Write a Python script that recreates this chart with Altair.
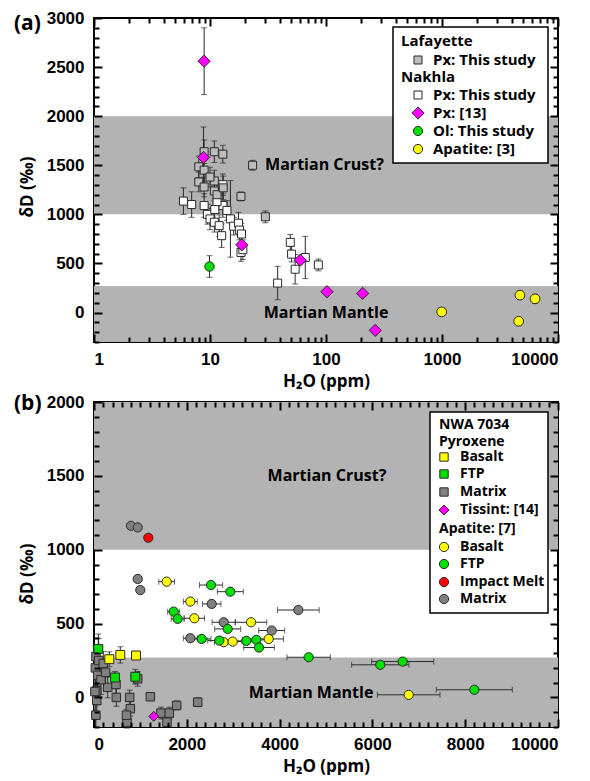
import altair as alt
import pandas as pd

# ---------------- Panel (a) data ----------------
laf_x = [10.9, 12.9, 8.9, 8.0, 8.9, 8.0, 10.9, 8.9, 10.9, 11.5, 10.0, 13.0, 23.3, 18.5, 30.0]
laf_y = [1638, 1613, 1638, 1484, 1450, 1330, 1340, 1279, 1238, 1200, 1380, 1270, 1500, 1183, 975]
laf_e = [110, 90, 120, 110, 120, 100, 110, 100, 100, 110, 100, 120, 50, 45, 60]

nak_x = [5.9, 6.95, 8.9, 9.5, 10.0, 10.9, 12.0, 12.6, 12.9, 12.9, 11.0, 11.5, 14.0, 15.0, 16.0,
         17.6, 18.0, 18.7, 18.5, 19.2, 38.3, 49.2, 50.5, 54.2, 66.3, 85.9]
nak_y = [1135, 1100, 1090, 1000, 954, 920, 885, 783, 1302, 1090, 1050, 1130, 1040, 954, 880,
         910, 840, 800, 612, 640, 300, 715, 595, 441, 561, 485]
nak_e = [135, 130, 120, 100, 110, 100, 110, 120, 110, 120, 110, 120, 100, 390, 90,
         110, 100, 110, 90, 100, 170, 80, 80, 150, 215, 60]

px13_x = [8.9, 8.8, 18.8, 60, 102, 207, 266]
px13_y = [2560, 1580, 690, 533, 212, 195, -181]
px13_e = [340, 310, 0, 0, 0, 0, 0]

ol_x = [9.9]
ol_y = [469]
ol_e = [110]

apa_x = [993, 4700, 6340, 4580]
apa_y = [7, 177, 140, -89]
apa_e = [40, 40, 45, 35]

# ---------------- Panel (b) data ----------------
pb_x = [330, 567, 905]
pb_y = [259, 288, 284]
pb_e = [50, 55, 0]

pf_x = [93, 453, 890]
pf_y = [329, 135, 140]
pf_e = [100, 40, 50]

pm_x = [43, 136, 58, 295, 481, 769, 1214, 783, 711, 1444, 1623, 1573, 1782, 2235, 942, 474, 700,
        30, 80, 20, 100, 60, 150, 200, 250, 40]
pm_y = [277, 158, 45, 68, 0, 0, 5, -76, -167, -106, -106, -167, -54, -32, 126, 88, -120,
        200, 150, 40, 250, -20, 120, 230, 170, -120]
pm_e = [60, 60, 50, 70, 60, 50, 0, 50, 40, 40, 40, 30, 30, 30, 50, 60, 40,
        150, 200, 150, 150, 100, 100, 80, 80, 80]

tis_x = [1287]
tis_y = [-128]

ab_x = [1566, 2076, 2162, 3384, 2795, 2989, 3765, 6782]
ab_y = [784, 649, 536, 509, 374, 378, 396, 18]
ab_e = [170, 150, 220, 340, 200, 200, 320, 675]

af_x = [2522, 2938, 1717, 1803, 2881, 2321, 2701, 3283, 3499, 3556, 4626, 6170, 6652, 8196]
af_y = [761, 716, 581, 532, 464, 396, 385, 383, 390, 338, 272, 221, 243, 52]
af_e = [250, 280, 130, 140, 280, 200, 250, 300, 300, 330, 467, 618, 670, 820]

ai_x = [1170]
ai_y = [1081]

am_x = [797, 942, 942, 998, 2536, 2795, 2076, 3830, 4403]
am_y = [1162, 1151, 802, 727, 633, 509, 401, 453, 592]
am_e = [0, 0, 0, 0, 200, 250, 150, 280, 450]

# bands (lo, hi)
band_a_lo = [1000, -300]
band_a_hi = [2000, 270]
band_b_lo = [1000, -200]
band_b_hi = [2000, 270]

W, H_A, H_B = 464, 324, 325
LABEL_FONT = "Liberation Sans"
TEXT_FONT = "Open Sans"
BAND = "#b3b3b3"
EDGE = "#2a2a2a"


def frame(x, y, e=None):
    d = {"x": x, "y": y}
    if e is not None:
        d["e"] = e
    return pd.DataFrame(d)


def tick_axis(orient, values, length):
    # inward-pointing ticks drawn by a label-less axis on top of the marks
    return alt.Axis(orient=orient, values=values, labels=False, domain=False, grid=False,
                    title=None, ticks=True, tickSize=alt.ExprRef(expr=str(-length)),
                    tickColor="black", tickWidth=2, zindex=2)


class Panel:
    def __init__(self, xdom, ydom, xlog, xa, ya, h):
        self.xdom, self.ydom, self.h = xdom, ydom, h
        if xlog:
            self.xs = alt.Scale(type="log", domain=xdom, nice=False)
        else:
            self.xs = alt.Scale(domain=xdom, nice=False, zero=False)
        self.ys = alt.Scale(domain=ydom, nice=False, zero=False)
        self.xa, self.ya = xa, ya

    def X(self, f, axis=None):
        return alt.X(f, scale=self.xs, axis=axis)

    def Y(self, f, axis=None):
        return alt.Y(f, scale=self.ys, axis=axis)

    def points(self, df, shape, fill, size):
        return alt.Chart(df).mark_point(
            shape=shape, filled=True, fill=fill, stroke=EDGE, strokeWidth=1,
            size=size, opacity=1, fillOpacity=1
        ).encode(x=self.X("x:Q"), y=self.Y("y:Q"))

    def yerr(self, df):
        d = df[df["e"] > 0]
        return alt.Chart(d).transform_calculate(
            lo="datum.y - datum.e", hi="datum.y + datum.e"
        ).mark_errorbar(ticks={"size": 6}, color=EDGE, thickness=1).encode(
            x=self.X("x:Q"), y=self.Y("lo:Q"), y2="hi:Q")

    def xerr(self, df):
        d = df[df["e"] > 0]
        return alt.Chart(d).transform_calculate(
            lo="datum.x - datum.e", hi="datum.x + datum.e"
        ).mark_errorbar(ticks={"size": 6}, color=EDGE, thickness=1).encode(
            y=self.Y("y:Q"), x=self.X("lo:Q"), x2="hi:Q")

    def axis_layer(self, channel, axis):
        df = pd.DataFrame({"x": [self.xdom[0]], "y": [self.ydom[0]]})
        return alt.Chart(df).mark_point(opacity=0).encode(
            x=self.X("x:Q", axis if channel == "x" else None),
            y=self.Y("y:Q", axis if channel == "y" else None))

    def axes(self, xmaj, xmin, ymaj, ymin):
        out = [self.axis_layer("x", self.xa), self.axis_layer("y", self.ya)]
        for o in ("bottom", "top"):
            out.append(self.axis_layer("x", tick_axis(o, xmaj, 8)))
            out.append(self.axis_layer("x", tick_axis(o, xmin, 5)))
        for o in ("left", "right"):
            out.append(self.axis_layer("y", tick_axis(o, ymaj, 8)))
            out.append(self.axis_layer("y", tick_axis(o, ymin, 5)))
        return out

    def bands(self, lo, hi):
        return alt.Chart(pd.DataFrame({"lo": lo, "hi": hi})).mark_rect(color=BAND).encode(
            x=alt.value(0), x2=alt.value(W), y=self.Y("lo:Q"), y2="hi:Q")

    def note(self, s, x, y):
        return alt.Chart(pd.DataFrame({"x": [x], "y": [y]})).mark_text(
            font=TEXT_FONT, fontSize=16, fontWeight="bold", color="black",
            align="center", baseline="middle", text=s
        ).encode(x=self.X("x:Q"), y=self.Y("y:Q"))


ONE = pd.DataFrame({"k": [0]})


def txt(s, x, y, size=14, align="left", angle=0, font=TEXT_FONT):
    kw = dict(align=align, baseline="middle", font=font, fontSize=size,
              fontWeight="bold", color="black")
    if angle:
        kw["angle"] = angle
    return alt.Chart(ONE).mark_text(**kw).encode(
        x=alt.value(x), y=alt.value(y), text=alt.value(s))


def legend(rows, box, hx, sx, lx, fs):
    out = [alt.Chart(ONE).mark_rect(fill="white", stroke="black", strokeWidth=1.5).encode(
        x=alt.value(box[0]), x2=alt.value(box[1]), y=alt.value(box[2]), y2=alt.value(box[3]))]
    for r in rows:
        label, ypos, shape, fill, size = r
        if shape is None:
            out.append(txt(label, hx, ypos, size=fs))
        else:
            out.append(alt.Chart(ONE).mark_point(
                shape=shape, filled=True, fill=fill, stroke=EDGE, strokeWidth=1,
                size=size, opacity=1).encode(x=alt.value(sx), y=alt.value(ypos)))
            out.append(txt(label, lx, ypos, size=fs))
    return out


# ---------------- Panel (a) ----------------
pa = Panel(
    [1, 10000], [-300, 3000], True,
    alt.Axis(orient="bottom", values=[1, 10, 100, 1000, 10000], format="d", ticks=False,
             domain=False, grid=False, labelPadding=9, title="H₂O (ppm)", titlePadding=6),
    alt.Axis(orient="left", values=[0, 500, 1000, 1500, 2000, 2500, 3000], format="d",
             ticks=False, domain=False, grid=False, labelPadding=10, title=None),
    H_A,
)

d_laf = frame(laf_x, laf_y, laf_e)
d_nak = frame(nak_x, nak_y, nak_e)
d_px13 = frame(px13_x, px13_y, px13_e)
d_ol = frame(ol_x, ol_y, ol_e)
d_apa = frame(apa_x, apa_y, apa_e)

xmaj_a = [1, 10, 100, 1000, 10000]
xmin_a = [m * 10 ** k for k in range(4) for m in range(2, 10)]
ymaj_a = list(range(0, 3001, 500))
ymin_a = [v for v in range(-300, 3001, 100) if v % 500 != 0]

leg_a = legend(
    [("Lafayette", 23, None, None, 0),
     ("Px: This study", 42, "square", "#bdbdbd", 64),
     ("Nakhla", 59, None, None, 0),
     ("Px: This study", 77, "square", "white", 64),
     ("Px: [13]", 95, "diamond", "#ff00ff", 150),
     ("Ol: This study", 113, "circle", "#00e000", 85),
     ("Apatite: [3]", 131, "circle", "#ffff00", 85)],
    (299, 454, 9, 145), 307, 324, 339, 15)

panel_a = alt.layer(
    pa.bands(band_a_lo, band_a_hi),
    pa.note("Martian Crust?", 97, 1500),
    pa.note("Martian Mantle", 100, 0),
    pa.yerr(d_nak),
    pa.yerr(d_laf),
    pa.yerr(d_px13),
    pa.yerr(d_ol),
    pa.yerr(d_apa),
    pa.points(d_nak, "square", "white", 64),
    pa.points(d_laf, "square", "#bdbdbd", 64),
    pa.points(d_px13, "diamond", "#ff00ff", 150),
    pa.points(d_ol, "circle", "#00e000", 90),
    pa.points(d_apa, "circle", "#ffff00", 95),
    *pa.axes(xmaj_a, xmin_a, ymaj_a, ymin_a),
    *leg_a,
    txt("(a)", -80, 6, size=21, align="left"),
    txt("δD (‰)", -66, 169, size=17, align="center", angle=270),
).resolve_axis(x="independent", y="independent").properties(width=W, height=H_A)

# ---------------- Panel (b) ----------------
pb = Panel(
    [0, 10000], [-200, 2000], False,
    alt.Axis(orient="bottom", values=[0, 2000, 4000, 6000, 8000, 10000], format="d",
             ticks=False, domain=False, grid=False, labelPadding=9, title="H₂O (ppm)",
             titlePadding=6),
    alt.Axis(orient="left", values=[0, 500, 1000, 1500, 2000], format="d", ticks=False,
             domain=False, grid=False, labelPadding=10, title=None),
    H_B,
)

d_pb = frame(pb_x, pb_y, pb_e)
d_pf = frame(pf_x, pf_y, pf_e)
d_pm = frame(pm_x, pm_y, pm_e)
d_tis = frame(tis_x, tis_y)
d_ab = frame(ab_x, ab_y, ab_e)
d_af = frame(af_x, af_y, af_e)
d_ai = frame(ai_x, ai_y)
d_am = frame(am_x, am_y, am_e)

xmaj_b = list(range(0, 10001, 2000))
xmin_b = [v for v in range(0, 10001, 200) if v % 2000 != 0]
ymaj_b = list(range(0, 2001, 500))
ymin_b = [v for v in range(-200, 2001, 100) if v % 500 != 0]

leg_b = legend(
    [("NWA 7034", 23, None, None, 0),
     ("Pyroxene", 40, None, None, 0),
     ("Basalt", 55, "square", "#ffff00", 70),
     ("FTP", 72, "square", "#00e000", 70),
     ("Matrix", 90, "square", "#808080", 70),
     ("Tissint: [14]", 108, "diamond", "#ff00ff", 100),
     ("Apatite: [7]", 127, None, None, 0),
     ("Basalt", 145, "circle", "#ffff00", 85),
     ("FTP", 162, "circle", "#00e000", 85),
     ("Impact Melt", 180, "circle", "#ff0000", 85),
     ("Matrix", 197, "circle", "#808080", 85)],
    (336, 454, 10, 211), 345, 350, 366, 14)

panel_b = alt.layer(
    pb.bands(band_b_lo, band_b_hi),
    pb.note("Martian Crust?", 5020, 1500),
    pb.note("Martian Mantle", 4677, 30),
    pb.yerr(d_pm),
    pb.yerr(d_pb),
    pb.yerr(d_pf),
    pb.xerr(d_ab),
    pb.xerr(d_af),
    pb.xerr(d_am),
    pb.points(d_pm, "square", "#808080", 72),
    pb.points(d_pb, "square", "#ffff00", 80),
    pb.points(d_pf, "square", "#00e000", 80),
    pb.points(d_tis, "diamond", "#ff00ff", 100),
    pb.points(d_am, "circle", "#808080", 85),
    pb.points(d_ai, "circle", "#ff0000", 85),
    pb.points(d_ab, "circle", "#ffff00", 85),
    pb.points(d_af, "circle", "#00e000", 85),
    *pb.axes(xmaj_b, xmin_b, ymaj_b, ymin_b),
    *leg_b,
    txt("(b)", -80, 2, size=21, align="left"),
    txt("δD (‰)", -66, 172, size=17, align="center", angle=270),
).resolve_axis(x="independent", y="independent").properties(width=W, height=H_B)

chart = alt.vconcat(panel_a, panel_b, spacing=2).properties(
    padding={"left": 5, "top": 0, "right": 5, "bottom": 0}
).configure_view(stroke="black", strokeWidth=2).configure_axis(
    labelFont=LABEL_FONT, labelFontSize=17, labelFontWeight="bold", labelColor="black",
    titleFont=TEXT_FONT, titleFontSize=17, titleFontWeight="bold", titleColor="black",
)

chart.save("out.html", embed_options={"renderer": "svg", "actions": False})
